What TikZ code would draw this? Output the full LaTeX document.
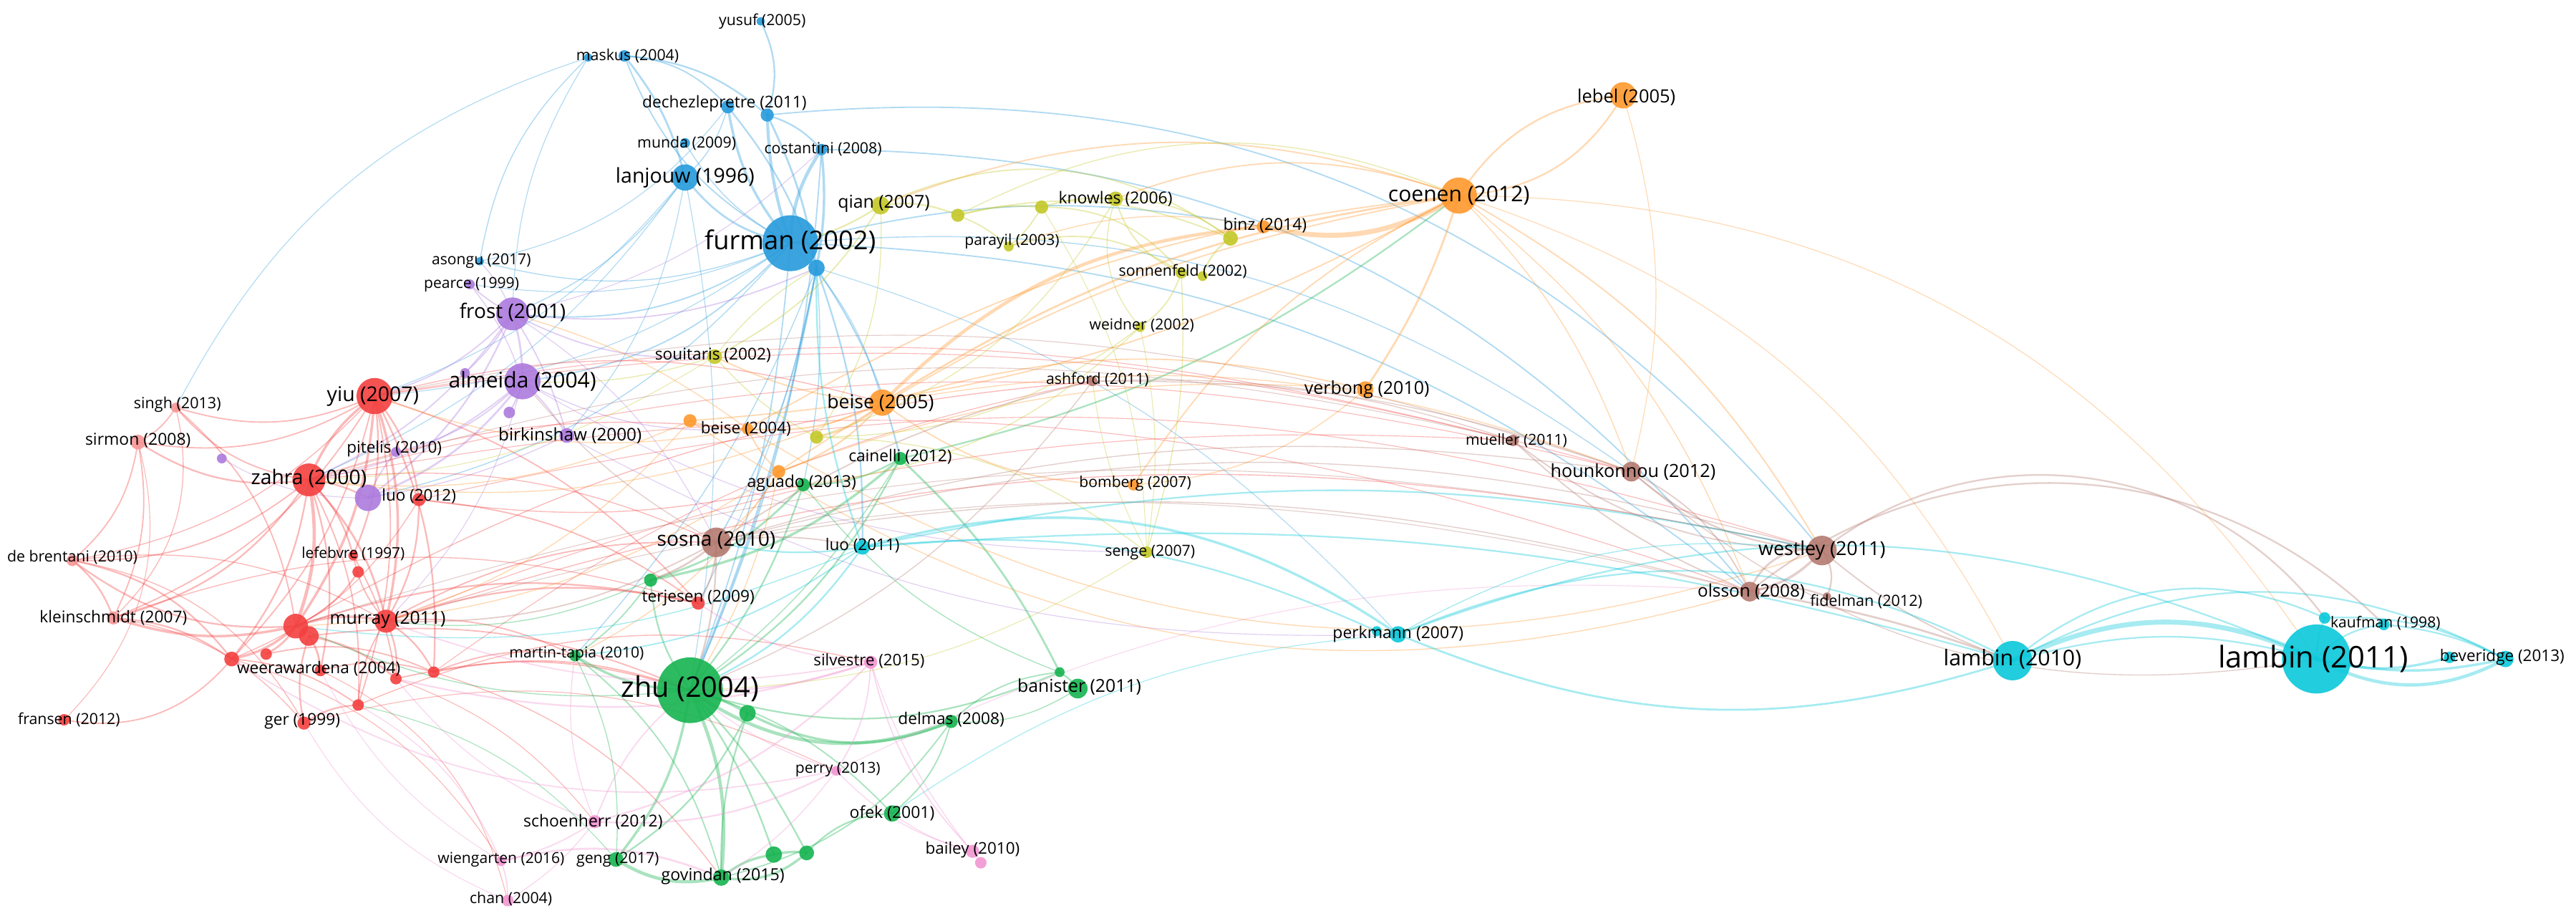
\documentclass[tikz,border=0pt]{standalone}
\usepackage{fontspec}
\setmainfont{Open Sans}
\definecolor{cblue}{RGB}{38,155,220}
\definecolor{cpurp}{RGB}{172,122,222}
\definecolor{cred}{RGB}{244,64,64}
\definecolor{cpred}{RGB}{248,150,150}
\definecolor{cgreen}{RGB}{22,180,80}
\definecolor{corange}{RGB}{255,152,45}
\definecolor{cyell}{RGB}{196,200,40}
\definecolor{cbrown}{RGB}{180,122,112}
\definecolor{ccyan}{RGB}{10,200,218}
\definecolor{cpink}{RGB}{242,150,210}
\tikzset{
  edge/.style={draw opacity=.36, line cap=round},
  ball/.style={circle, inner sep=0pt, draw=none, fill opacity=.9},
  lbl/.style={inner sep=0pt, text=black, anchor=center}
}
\begin{document}
\begin{tikzpicture}[x=1pt,y=-1pt]
\fill[white] (0,0) rectangle (1568,560);
\useasboundingbox (0,0) rectangle (1568,560);
% ---------- coordinates ----------
\foreach \n/\x/\y in {
 yusuf/463/13, mask/380/34, mask2/358/35, dech/443/65, dech2/467/70, munda/417/87, cost/500/91,
 lanj/417/108, furm/481/148, furm2/497/163, asongu/292/159,
 pearce/286/173, frost/312/191, alme/318/232, alme2/283/227, alme3/310/251, birk/345/265,
 pitel/241/275, luoP/224/303, purp/135/279,
 yiu/228/241, singh/107/248, sirmon/84/269, zahra/188/292, luoR/255/304, debren/44/341,
 lefeb/215/338, lef2/218/348, klein/69/376, murray/235/378, rbig/180/381, rbig2/188/387,
 weera/195/408, r1/141/401, r2/162/398, r3/241/413, r4/264/409, r5/218/429, fransen/39/438,
 ger/185/440, terj/425/367,
 zhu/420/420, zhu2/455/434, martin/350/399, gterj/396/353, banis/656/419, banis2/645/409,
 delmas/579/439, ofek/543/495, geng/375/523, govin/439/534, g1/471/520, g2/491/519,
 cain/548/279, aguado/489/295,
 silv/530/403, perry/509/469, bailey/592/518, bailey2/597/525, schoen/362/500, wieng/305/524, chan/309/548,
 beise5/537/245, beise4/455/261, o4/420/256, oag/474/287, coenen/888/119, lebel/988/58,
 binz/769/138, verbong/831/237, bomberg/690/295,
 souit/435/217, y1/497/266, qian/536/125, y2/583/131, y3/634/126, knowles/679/121, parayil/614/150,
 sonn/719/166, sonn2/732/168, weidner/694/199, senge/698/336, binzY/749/145,
 sosna/436/330, ashford/665/232, mueller/921/268, hounk/993/287, westley/1109/335, olsson/1065/360, fidel/1112/363,
 luoC/525/333, perk/851/386, perk2/838/384, lamb10/1225/402, lamb11/1410/401, kauf1/1415/376, kauf2/1451/380,
 bev1/1491/400, bev2/1525/401}
 {\coordinate (\n) at (\x,\y);}
% ---------- edges ----------
\begin{scope}[edge, cblue]
\foreach \a/\b/\w/\g in {furm/lanj/1.2/20, furm/dech/1.5/15, furm/dech2/1.8/8, furm/cost/2/15, furm/munda/0.6/15,
 furm/mask/0.8/20, mask/lanj/1.2/12, mask/dech2/1/18, mask/dech/0.8/22, mask2/asongu/0.6/-18, mask2/frost/0.5/-15,
 mask2/singh/0.5/-22, yusuf/dech2/1/22, dech2/cost/1/15, dech/lanj/0.6/15, dech/furm2/1/10, dech2/furm2/1.2/8,
 cost/furm2/1.5/8, furm/frost/0.8/20, furm/alme/0.8/20, furm/asongu/0.6/18, furm/pearce/0.5/15, furm/zhu/0.8/8,
 furm2/sosna/0.8/10, furm2/zhu/1.2/6, furm2/luoC/1/10, furm2/cain/1/10, lanj/frost/0.6/15, lanj/zahra/0.5/15,
 lanj/yiu/0.5/15, dech/asongu/0.5/20, furm/yiu/0.5/15, furm2/martin/0.6/10, furm/beise5/0.5/15, furm2/aguado/0.6/8,
 furm2/terj/0.5/8, dech2/westley/0.8/28, cost/olsson/0.8/25, furm/hounk/0.6/20, furm/olsson/0.8/18, lanj/zhu/0.5/10,
 cost/zhu/0.8/10, furm/luoP/0.6/18, furm2/perk/0.5/15, lanj/birk/0.5/15, furm/binz/0.8/12}
 {\draw[line width=\w*1pt] (\a) to[bend left=\g] (\b);}
\end{scope}
\begin{scope}[edge, cpurp]
\foreach \a/\b/\w/\g in {frost/alme/1.2/8, frost/alme2/0.8/8, frost/birk/0.8/8, frost/pearce/0.8/8, frost/zahra/0.8/15,
 frost/yiu/0.8/15, frost/luoP/1/15, alme/luoP/1.2/15, alme/birk/0.8/8, alme/pitel/0.8/15, alme/alme3/1/8,
 alme/zahra/0.8/15, alme/beise4/0.6/-15, frost/souit/0.8/-15, birk/luoP/0.6/8, luoP/purp/0.5/15, luoP/pitel/0.8/8,
 frost/sosna/0.5/15, alme/murray/0.5/15, frost/furm2/0.8/-15, alme/senge/0.5/-15, birk/perk/0.5/-15,
 asongu/frost/0.6/10, pearce/alme/0.6/10, frost/cost/0.5/-15}
 {\draw[line width=\w*1pt] (\a) to[bend left=\g] (\b);}
\end{scope}
\begin{scope}[edge, cred]
\foreach \a/\b/\w/\g in {zahra/yiu/1.5/15, zahra/sirmon/1/20, zahra/singh/0.8/20, zahra/debren/0.8/20, zahra/klein/1/20,
 zahra/rbig/2/15, zahra/murray/1.2/15, zahra/weera/1/15, zahra/r1/1/15, yiu/murray/1.5/15, yiu/rbig/1.5/15,
 yiu/singh/0.8/20, yiu/sirmon/0.8/20, yiu/luoR/1/15, yiu/r4/1/15, rbig/murray/1.5/15, rbig/klein/1.5/15,
 rbig/debren/1/20, rbig/r1/1.5/15, rbig/r2/1.2/15, rbig2/weera/1.2/15, rbig2/r3/1.2/15, murray/r3/1/15,
 murray/r4/1/15, murray/lefeb/0.8/15, lef2/rbig/1/15, klein/r1/1/15, debren/klein/1/15, debren/r1/1/20,
 fransen/r1/0.8/-30, ger/r5/1/15, ger/rbig2/1/15, r5/murray/0.8/15, singh/sirmon/0.8/15, sirmon/debren/0.8/20,
 singh/rbig/0.8/20, zahra/luoP/1/10, luoR/murray/1/15, luoR/terj/0.8/15, yiu/terj/0.8/15, murray/terj/1/15,
 rbig/terj/1/15, murray/martin/0.8/15, rbig2/zhu/0.8/15, r4/zhu/0.8/15, murray/sosna/0.8/15, zahra/sosna/0.6/15,
 yiu/beise5/0.6/15, zahra/beise4/0.6/12, rbig/ashford/0.6/12, murray/westley/0.6/15, zahra/olsson/0.5/15,
 yiu/hounk/0.5/12, murray/mueller/0.5/12, weera/chan/0.5/25, r1/wieng/0.5/20, r3/schoen/0.5/15, debren/ger/0.6/25,
 klein/ger/0.6/20, sirmon/klein/0.8/18, singh/klein/0.6/30, sirmon/fransen/0.5/30, yiu/lefeb/1/15, zahra/lefeb/1/15,
 zahra/r5/0.8/15, yiu/r5/0.8/15, lefeb/r3/0.8/10, r2/r4/0.8/18, weera/r4/0.8/15, r1/r5/0.8/15, yiu/klein/0.8/18,
 yiu/debren/0.6/18, luoR/r1/0.6/18, r4/martin/0.8/15, r3/zhu/0.8/15, klein/terj/0.6/18, debren/murray/0.6/18,
 yiu/r1/0.8/15, ger/perry/0.5/20, r5/silv/0.6/18, r4/govin/0.6/18, luoR/aguado/0.6/-10,
 luoR/westley/0.5/15, yiu/mueller/0.5/12, zahra/hounk/0.5/14, r4/ashford/0.5/12}
 {\draw[line width=\w*1pt] (\a) to[bend left=\g] (\b);}
\end{scope}
\begin{scope}[edge, cgreen]
\foreach \a/\b/\w/\g in {zhu/govin/2/15, zhu/geng/1.5/15, zhu/delmas/2/-28, zhu/g1/1/8, zhu/g2/1/8, zhu/zhu2/1.5/8,
 zhu/martin/1.5/15, zhu/gterj/1/15, zhu/banis2/1/-20, zhu/ofek/0.8/15, govin/g1/1.5/15, govin/g2/1.5/-25,
 govin/geng/2/22, g2/ofek/1/22, ofek/delmas/0.8/-18, delmas/banis2/0.8/18, banis2/banis/1/10, banis2/cain/1.2/-10,
 cain/aguado/1/15, cain/zhu/1/15, aguado/zhu/1/10, gterj/aguado/1.2/-15, gterj/cain/1.5/-15, zhu2/delmas/1.5/-25,
 geng/zhu2/1/-15, govin/zhu2/1/10, govin/delmas/0.8/-20, cain/coenen/1/-12, gterj/martin/0.8/10, martin/geng/0.6/15,
 zhu/cain/0.6/-10, banis/delmas/0.6/18, aguado/banis2/0.6/-15, gterj/murray/0.6/15, zhu/rbig/0.6/15,
 geng/r5/0.5/-18, govin/martin/0.8/-18, g1/g2/1.5/10}
 {\draw[line width=\w*1pt] (\a) to[bend left=\g] (\b);}
\end{scope}
\begin{scope}[edge, cpink]
\foreach \a/\b/\w/\g in {silv/schoen/1/15, silv/perry/0.8/15, silv/bailey/0.8/-15, silv/r3/1/15, silv/murray/0.8/15,
 perry/bailey/0.6/-15, perry/schoen/1/15, perry/zhu/0.6/10, schoen/wieng/0.8/10, schoen/chan/0.6/10,
 wieng/chan/0.8/10, wieng/govin/1.2/18, schoen/zhu/0.8/15, schoen/martin/0.6/15, bailey/ofek/0.6/10, silv/zhu/1/10,
 perry/r1/0.8/22, perry/olsson/0.5/15, wieng/r5/0.6/-18, chan/ger/0.5/18, bailey2/silv/0.6/10, schoen/r3/0.6/15,
 wieng/weera/0.5/15, silv/terj/0.8/15, perry/govin/0.6/10}
 {\draw[line width=\w*1pt] (\a) to[bend left=\g] (\b);}
\end{scope}
\begin{scope}[edge, corange]
\foreach \a/\b/\w/\g in {binz/coenen/3/-22, coenen/lebel/1/25, coenen/lebel/1/-28, coenen/verbong/1.2/8,
 coenen/knowles/0.8/-20, coenen/qian/0.8/-20, coenen/beise5/1.2/-12, coenen/bomberg/0.8/-15, coenen/olsson/0.6/15,
 coenen/westley/0.8/15, coenen/hounk/0.6/12, coenen/lamb10/0.5/22, coenen/oag/0.8/-12, coenen/beise4/0.8/-12,
 beise5/binz/2/20, beise5/oag/1/15, beise5/y1/1/15, beise5/beise4/1/15, beise4/o4/0.8/10, oag/beise4/0.8/10,
 beise5/souit/0.8/10, o4/zahra/0.6/15, beise4/yiu/0.6/15, oag/rbig/0.6/15, verbong/bomberg/0.6/18,
 verbong/beise5/0.8/-15, bomberg/beise5/0.8/18, beise4/westley/0.6/-25, o4/olsson/0.6/-25, oag/zhu/0.6/10,
 o4/murray/0.6/15, beise5/zahra/0.6/15, lebel/hounk/0.5/15, coenen/lamb11/0.5/28, beise4/frost/0.6/-10,
 oag/sosna/0.6/10, oag/martin/0.6/15, binz/parayil/0.6/-15, beise5/hounk/0.6/15, oag/verbong/0.6/12,
 o4/coenen/0.8/-12}
 {\draw[line width=\w*1pt] (\a) to[bend left=\g] (\b);}
\end{scope}
\begin{scope}[edge, cyell]
\foreach \a/\b/\w/\g in {qian/y2/1/15, y2/y3/1/10, y3/knowles/1/10, qian/souit/0.8/15, qian/furm/1/10,
 y2/parayil/0.8/10, y3/parayil/0.8/10, knowles/sonn/0.8/-25, knowles/weidner/0.6/-30, y3/sonn/0.8/25,
 parayil/sonn/0.8/25, sonn/weidner/0.8/18, sonn2/binzY/1/18, binzY/y2/0.8/-18, binzY/knowles/0.8/-18,
 y1/qian/0.6/-18, y1/souit/0.6/10, souit/furm2/0.6/10, weidner/y1/0.6/18, senge/y1/0.6/-18, senge/sonn/0.6/-10,
 weidner/senge/0.5/10, senge/ashford/0.5/10, y1/knowles/0.6/-20, qian/binzY/0.8/30, y2/coenen/0.6/25,
 souit/zahra/0.5/15, senge/zhu/0.5/15, weidner/aguado/0.6/18, y3/senge/0.5/15, souit/alme/0.6/10}
 {\draw[line width=\w*1pt] (\a) to[bend left=\g] (\b);}
\end{scope}
\begin{scope}[edge, cbrown]
\foreach \a/\b/\w/\g in {westley/olsson/1.5/18, olsson/westley/1.2/40, westley/hounk/1/18, westley/mueller/0.8/18,
 olsson/hounk/0.8/-18, olsson/mueller/0.8/10, westley/fidel/1/30, olsson/fidel/1/18, westley/kauf1/1/46,
 olsson/kauf2/1/42, westley/lamb10/0.8/-10, olsson/lamb10/1.2/5, sosna/westley/0.6/15, sosna/olsson/0.6/12,
 sosna/ashford/0.8/10, ashford/hounk/0.6/10, ashford/mueller/0.6/10, sosna/terj/1/15, sosna/zhu/1/10,
 sosna/gterj/1.2/10, sosna/murray/0.8/15, hounk/yiu/0.5/-15, mueller/zahra/0.5/-15, westley/rbig/0.5/-15,
 olsson/murray/0.5/-15, hounk/lamb11/0.6/-25, sosna/luoC/0.8/10, ashford/zhu/0.6/15, sosna/alme/0.6/10,
 sosna/hounk/0.6/12}
 {\draw[line width=\w*1pt] (\a) to[bend left=\g] (\b);}
\end{scope}
\begin{scope}[edge, ccyan]
\foreach \a/\b/\w/\g in {lamb10/lamb11/3/25, lamb10/lamb11/1/15, lamb11/kauf1/1/10, lamb11/kauf2/1/20,
 lamb11/bev1/1.5/-15, lamb11/bev2/2/-28, lamb11/bev2/1.5/-12, kauf2/bev2/1/10, kauf1/bev2/1/15, lamb10/kauf1/1/32,
 lamb10/bev2/1/28, perk/lamb10/1/25, perk/lamb11/1/22, perk/lamb10/1.2/-20, perk2/luoC/1/-15, luoC/perk/1.5/25,
 luoC/westley/1/12, luoC/lamb10/1/10, perk/ofek/0.5/-15, luoC/zhu/1/15, luoC/martin/0.8/15, luoC/sosna/1/10,
 luoC/furm2/1/10, luoC/rbig/0.6/15, perk/westley/0.6/18}
 {\draw[line width=\w*1pt] (\a) to[bend left=\g] (\b);}
\end{scope}
% ---------- nodes ----------
\foreach \n/\r/\c in {
 yusuf/2.5/cblue, mask/3.5/cblue, mask2/2.5/cblue, dech/4/cblue, dech2/4/cblue, munda/3/cblue, cost/3.5/cblue,
 lanj/8/cblue, furm/17/cblue, furm2/5/cblue, asongu/2.5/cblue,
 pearce/3/cpurp, frost/10/cpurp, alme/11/cpurp, alme2/3/cpurp, alme3/3.5/cpurp, birk/4.5/cpurp, pitel/3/cpurp,
 luoP/8/cpurp, purp/3/cpurp,
 yiu/11/cred, singh/3/cpred, sirmon/4.5/cpred, zahra/10/cred, luoR/4/cred, debren/3.5/cpred, lefeb/3/cred,
 lef2/3.5/cred, klein/4/cpred, murray/7/cred, rbig/7.5/cred, rbig2/6/cred, weera/3.5/cred, r1/4.5/cred, r2/3.5/cred,
 r3/3.5/cred, r4/3.5/cred, r5/3.5/cred, fransen/3.5/cred, ger/4/cred, terj/4/cred,
 zhu/20/cgreen, zhu2/5/cgreen, martin/3.5/cgreen, gterj/4/cgreen, banis/6/cgreen, banis2/3/cgreen, delmas/4/cgreen,
 ofek/5/cgreen, geng/4.5/cgreen, govin/5/cgreen, g1/5/cgreen, g2/4.5/cgreen, cain/4/cgreen, aguado/4/cgreen,
 silv/4/cpink, perry/3/cpink, bailey/4/cpink, bailey2/3.5/cpink, schoen/4/cpink, wieng/3/cpink, chan/3.5/cpink,
 beise5/8/corange, beise4/3.5/corange, o4/4/corange, oag/4/corange, coenen/11/corange, lebel/8/corange,
 binz/4/corange, verbong/5/corange, bomberg/3.5/corange,
 souit/4.5/cyell, y1/4/cyell, qian/5.5/cyell, y2/4/cyell, y3/4/cyell, knowles/4.5/cyell, parayil/3/cyell,
 sonn/3.5/cyell, sonn2/3/cyell, weidner/3/cyell, senge/3.5/cyell, binzY/4.5/cyell,
 sosna/9/cbrown, ashford/3/cbrown, mueller/3.5/cbrown, hounk/6/cbrown, westley/9/cbrown, olsson/6/cbrown,
 fidel/2.5/cbrown,
 luoC/4.5/ccyan, perk/5/ccyan, perk2/3/ccyan, lamb10/12/ccyan, lamb11/21/ccyan, kauf1/3.5/ccyan, kauf2/3.5/ccyan,
 bev1/3.5/ccyan, bev2/5/ccyan}
 {\node[ball, fill=\c, minimum size=2*\r*1pt] (\n-n) at (\n) {};}
% ---------- labels ----------
\foreach \n/\x/\y/\s/\t in {
 yusuf/464/13/9.3/yusuf (2005), mask/382/34/9.3/maskus (2004), dech/441/63/9.9/dechezlepretre (2011),
 munda/418/87/9.3/munda (2009), cost/501/91/9.3/costantini (2008), lanj/417/108/12.4/lanjouw (1996),
 furm/481/147/15.8/furman (2002), asongu/293/159/9.2/asongu (2017), pearce/287/173/9.2/pearce (1999),
 frost/312/190/12.2/frost (2001), alme/318/232/13.1/almeida (2004), birk/347/265/10.6/birkinshaw (2000),
 pitel/240/273/9.8/pitelis (2010), luoP/255/302/9.8/luo (2012), yiu/227/241/12.4/yiu (2007),
 singh/108/246/9.4/singh (2013), sirmon/84/268/10/sirmon (2008), zahra/188/291/12.3/zahra (2000),
 debren/44/339/9.3/de brentani (2010), lefeb/215/337/9.1/lefebvre (1997), klein/69/376/9.9/kleinschmidt (2007),
 murray/236/377/10.8/murray (2011), weera/194/407/9.9/weerawardena (2004), fransen/42/438/9.3/fransen (2012),
 ger/184/439/9.9/ger (1999), terj/425/364/9.9/terjesen (2009), zhu/420/419/17.3/zhu (2004),
 martin/351/398/9.2/martin-tapia (2010), silv/529/402/9.7/silvestre (2015), banis/657/418/10.8/banister (2011),
 delmas/579/438/9.9/delmas (2008), perry/510/468/9.2/perry (2013), ofek/543/495/10/ofek (2001),
 bailey/592/517/9.8/bailey (2010), schoen/361/500/10/schoenherr (2012), wieng/305/523/9.2/wiengarten (2016),
 geng/376/523/9.3/geng (2017), govin/440/533/10.1/govindan (2015), chan/311/547/9.3/chan (2004),
 cain/548/278/9.9/cainelli (2012), aguado/488/294/10/aguado (2013), beise5/536/245/11.6/beise (2005),
 beise4/454/261/9.8/beise (2004), souit/434/216/9.9/souitaris (2002), coenen/888/119/13.1/coenen (2012),
 lebel/990/59/11.1/lebel (2005), binz/770/137/10/binz (2014), verbong/832/237/10.9/verbong (2010),
 bomberg/691/294/9.2/bomberg (2007), qian/538/124/10.8/qian (2007), knowles/679/121/10/knowles (2006),
 parayil/616/147/9.2/parayil (2003), sonn/720/165/9.3/sonnenfeld (2002), weidner/695/198/9.2/weidner (2002),
 senge/700/336/9.3/senge (2007), sosna/436/329/12.3/sosna (2010), ashford/668/231/9.3/ashford (2011),
 mueller/923/268/9.2/mueller (2011), hounk/994/287/11/hounkonnou (2012), westley/1109/335/11.7/westley (2011),
 olsson/1066/360/10.6/olsson (2008), fidel/1136/366/9.4/fidelman (2012), luoC/525/332/9.8/luo (2011),
 perk/851/386/10/perkmann (2007), lamb10/1225/401/13.2/lambin (2010), lamb11/1408/401/18.2/lambin (2011),
 kauf2/1452/379/9.2/kaufman (1998), bev2/1523/400/9.8/beveridge (2013)}
 {\node[lbl, font=\fontsize{\s}{\s}\selectfont] (\n-l) at (\x,\y) {\t};}
\end{tikzpicture}
\end{document}
